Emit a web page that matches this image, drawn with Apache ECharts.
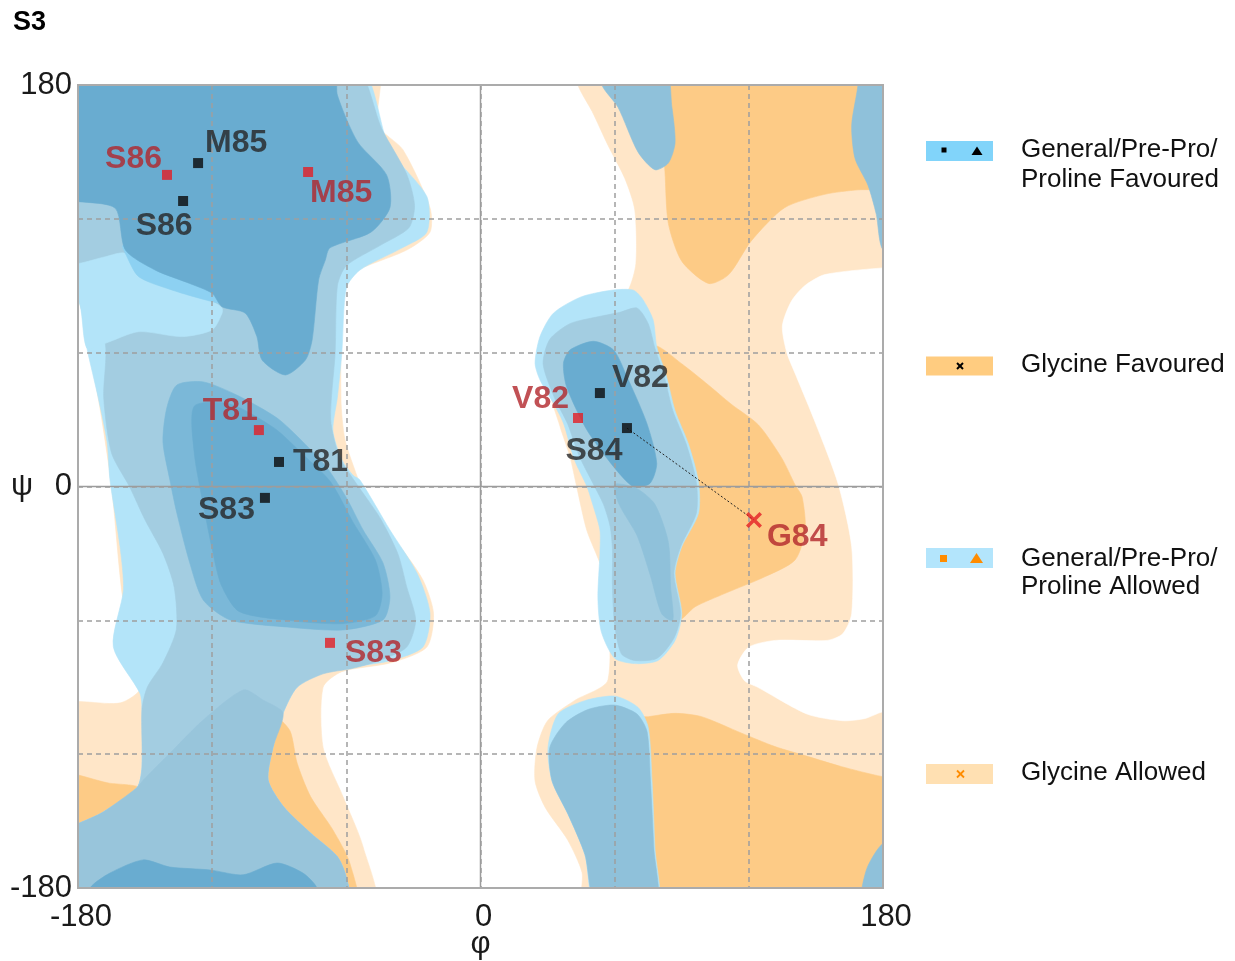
<!DOCTYPE html>
<html><head><meta charset="utf-8">
<script src="https://cdn.jsdelivr.net/npm/echarts@6/dist/echarts.min.js"></script>
<style>html,body{margin:0;padding:0;background:#fff}#c{width:1235px;height:961px}</style>
</head><body><div id="c"></div>
<script>
// ---------------- data ----------------
const phiTickLabels = [-180, 0, 180];
const psiTickLabels = [-180, 0, 180];

// model structure (black squares)
const modelResidues = ['T81', 'V82', 'S83', 'S84', 'M85', 'S86'];
const modelPhi = [-90.1, 53.4, -96.4, 65.5, -126.3, -133.0];
const modelPsi = [11.0, 41.9, -5.1, 26.2, 145.0, 128.0];

// second structure (red squares)
const refResidues = ['T81', 'V82', 'S83', 'M85', 'S86'];
const refPhi = [-99.1, 43.6, -67.3, -77.1, -140.2];
const refPsi = [25.3, 30.7, -70.1, 141.0, 139.7];

// glycine (red cross)
const glyResidues = ['G84'];
const glyPhi = [122.3];
const glyPsi = [-15.0];

// dotted link between residues
const linkPair = ['S84', 'G84'];

// ---- region contours, [phi, psi] in degrees ----
const glyAllowedLeft = [[-190,190],[-47,190],[-45.8,162],[-34.7,151],[-22.6,125],[-22.6,114],[-33,106],[-57,96],[-61.5,89],[-62.4,39],[-60.6,21],[-55,4],[-49.4,-12],[-36,-27],[-25.7,-42],[-21,-57],[-24,-72],[-40,-79],[-62,-83],[-70.4,-90],[-70.4,-117],[-61.5,-139],[-52.5,-161.6],[-48,-190],[-190,-190],[-190,-99],[-161,-97],[-152,-90],[-160,-50],[-165,0],[-171,40],[-180,84],[-190,86]];
const glyAllowedRight = [[43,190],[43.6,180],[50,168],[57,153],[64.6,138],[69,124],[69.5,100],[66,88],[55,75],[40,55],[31.1,44.7],[35.6,26.8],[40,13.4],[43,0],[47.5,-19.5],[55,-40],[57,-86.7],[42,-96],[30,-105],[25.3,-117],[24.4,-132],[29,-144],[39,-158.5],[45.4,-173],[46.7,-190],[190,-190],[190,190]];
const emptyPocket = [[190,98],[180,98],[154,95],[145,90],[139,83],[135,72],[137,60],[141,50],[150,28],[160,1],[166,-27],[166,-57],[162,-66],[155,-69],[132,-69],[120,-72],[115,-80],[118,-87],[124,-90],[146,-102],[162,-105],[172,-104],[180,-101],[190,-101]];
const glyFavLeftA = [[-190,-129],[-166,-133],[-153,-135],[-169,-146],[-190,-160]];
const glyFavLeftB = [[-100,-103],[-89.7,-104.7],[-85,-110],[-82,-124],[-76,-139],[-66,-154],[-58.4,-169],[-55.5,-190],[-100,-190]];
const glyFavRightTop = [[81,190],[81,165],[82.5,141],[84,118],[90,101],[102,91],[111,95],[121,110],[136,125],[154,131],[169,133],[180,133],[190,133],[190,190]];
const glyFavRightMid = [[78,63],[90,55],[101.9,45.5],[112,37],[124.3,27.6],[134.8,12.6],[140.7,0.7],[143.8,-4.6],[145.2,-19.5],[140.7,-32.9],[127.3,-40.4],[109.4,-47.9],[96,-53.9],[88.5,-59.8],[80,-45],[72,-20],[72,20],[74,50]];
const glyFavRightBot = [[70,-190],[70,-104],[75.1,-103.2],[87,-101.7],[98.9,-103.2],[116.8,-110.6],[131.7,-116.6],[146.6,-121.1],[161.5,-125.6],[179.4,-130],[190,-131],[190,-190]];

const genAllowedLeft = [[-190,190],[-56,190],[-40.5,151],[-24,130],[-24,114],[-35,107],[-54,97],[-60,89],[-62,60],[-64,40],[-66,25],[-62,12],[-57,5],[-53.9,2.9],[-40.5,-19.5],[-28.4,-38.8],[-22.6,-56.7],[-25.7,-71.9],[-40,-78],[-57,-80.9],[-70.4,-83.6],[-82,-89.9],[-88.3,-101.6],[-92.8,-116.9],[-95,-131.6],[-88,-143.7],[-76,-155.4],[-64,-166],[-59.7,-176.5],[-59,-190],[-190,-190],[-190,-158],[-168.8,-146],[-153.6,-135],[-151.4,-126],[-151.4,-100],[-152.3,-92.7],[-164.2,-71.8],[-159.7,-46.4],[-161.2,-27],[-165.7,2.9],[-167,20],[-171,40],[-176,62],[-180,84],[-190,86]];
const genAllowedAlphaL = [[24.4,55.2],[26.6,67.2],[32.6,77.7],[45,85],[59.4,88.1],[68.4,88],[72.5,84],[77.2,74.7],[78.8,62.7],[83,50],[87,34],[93,19],[97.5,2],[97.5,-12],[90,-27],[87,-39],[90,-57],[87,-69],[79.4,-78],[69,-79.4],[60,-77],[54,-65],[52.5,-50],[53.4,-30],[53.4,-19.5],[50,-7.4],[47.6,0],[42,12],[37.1,28.4],[32.6,37.4],[26.6,47.8]];
const genAllowedLow = [[34.7,-102],[46.7,-96],[60.2,-94],[70.4,-99],[75,-108],[76.7,-132],[78,-162],[79,-190],[52,-190],[46.7,-165],[39.2,-147],[32,-132],[30.2,-117]];

const preProLeft = [[-190,190],[-58,190],[-44,160],[-33,140],[-29.5,126],[-32,116],[-45,108],[-60,99],[-64,90],[-65,60],[-67,30],[-63,13],[-56,2],[-45,-14],[-37,-30],[-33,-45],[-29,-60],[-33,-72],[-45,-78],[-57,-81.5],[-70.4,-84],[-82,-90],[-88.3,-101.6],[-92.8,-116.9],[-95,-131.6],[-88,-143.7],[-76,-155.4],[-64,-166],[-59.7,-176.5],[-59,-190],[-190,-190],[-190,-158],[-168.8,-146],[-153.6,-135],[-151.4,-126],[-151.4,-100],[-149,-90],[-142,-79],[-136,-64],[-137,-45],[-142,-30],[-150,-15],[-157,0],[-165,15],[-168.5,40],[-167.8,64.2],[-176,80],[-180,98],[-190,100]];
const preProAlphaL = [[28,55],[31,66],[40,73],[52,76],[62,78],[70,80],[75,73],[78,62],[82,50],[86,34],[92,19],[96.5,2],[96.5,-12],[89.5,-27],[86.5,-39],[89.5,-57],[86.5,-68],[79,-77],[69,-78],[63,-75],[60,-62],[59,-45],[59,-28],[58,-18],[55,-8],[50,2],[44,14],[39,28],[33,40]];
const allowedBridge = [[-190,100],[-179.7,100],[-167.8,103],[-158.8,104.5],[-152.9,94.1],[-138,88.1],[-120,82.9],[-115.6,80],[-115.6,77.6],[-120,70.2],[-133.5,67.2],[-152.9,69.4],[-167.8,64.2],[-176,62],[-180,84],[-190,86]];
const generalBand = [[-160,108],[-158.8,104.5],[-152.9,94.1],[-138,88.1],[-120,82.9],[-113,82],[-110,95],[-140,102],[-155,110]];

const prolineLowLeft = [[-190,-158],[-168.8,-146],[-153.6,-135],[-150.8,-131.6],[-138.9,-119.6],[-124,-104.7],[-106,-91.2],[-97.3,-95.7],[-88.3,-101.6],[-92.8,-116.9],[-95,-131.6],[-88,-143.7],[-76,-155.4],[-64,-166],[-59.7,-176.5],[-59,-190],[-190,-190]];
const prolineLowRight = [[38,-106],[48,-100],[60,-98],[70,-102],[74.5,-110],[76,-132],[77.5,-162],[78.5,-190],[52.5,-190],[46.7,-165],[39.2,-147],[32,-132],[31,-117]];
const prolineTopWrap = [[54.3,190],[54.3,180],[61.5,170],[70.4,150],[78,142],[84,145],[87,154],[85.6,170],[82,190]];
const edgeTopRight = [[168.8,190],[168.8,180],[166,162],[167.5,147],[173.3,135],[177,122],[180,106],[190,104],[190,190]];
const edgeBottomRight = [[190,-158],[180,-160],[173.3,-170],[170.6,-180],[170,-190],[190,-190]];
const alphaLBand = [[60,1],[70,-1],[78,-8],[84,-25],[85,-45],[86,-60],[81,-57],[76,-40],[70,-22],[62,-8]];

const alphaOuter = [[-142,20],[-140.3,35.2],[-135.8,45.5],[-124,46.9],[-109,41],[-91,30.7],[-79.4,20],[-68.6,8.3],[-60,-5],[-52.5,-19.5],[-43.6,-34.3],[-40.5,-49.5],[-43.6,-59.8],[-61.5,-64.3],[-86.5,-63],[-112,-59.8],[-124,-50.9],[-130,-34.3],[-135.8,-11.9],[-138.9,2.9]];
const alphaCore = [[-128,36],[-112,37],[-92,26],[-79,14],[-67,2],[-57,-16],[-47,-33],[-44,-48],[-47,-58],[-62,-61.5],[-86,-60],[-108,-56],[-116,-44],[-120,-28],[-124,-8],[-128,15]];
const betaCore = [[-190,190],[-66,190],[-64,175.5],[-55,154.6],[-42,139.7],[-40.5,125],[-49,114],[-67.3,107],[-69.4,101.5],[-72.4,92.6],[-75.3,65.7],[-78.3,56.7],[-87.3,50],[-97.7,56.7],[-100,67.2],[-105.2,77.7],[-115.6,80.6],[-120,86.6],[-130,91],[-145.4,97],[-158.8,106],[-163.3,124.7],[-179.7,127.7],[-190,128]];
const betaCoreWrap = [[-176,-190],[-174.6,-180],[-165.7,-173.3],[-150.9,-167.4],[-138.9,-170.6],[-121,-171.9],[-106.2,-174.1],[-91,-168.8],[-79.4,-173.3],[-73.1,-180],[-72,-190]];
const alphaLCore = [[37.1,55.2],[40,61.2],[50.5,65.1],[59.5,61.2],[65.5,49.2],[74.4,28.3],[78.8,10.4],[75.8,1.4],[68.4,-0.1],[59.5,8.9],[47.6,25.3],[38.5,44.7]];

// ---------------- styles ----------------
const COL = {
  ga: '#FFE6C8', gf: '#FDCB86', bl: '#B3E4F9', bc: '#8DD1F2', bg: '#A3CDE1',
  bm: '#8FC1DA', bh: '#98C5DB', bt: '#7BB8D8', bd: '#69ACD0', white: '#FFFFFF'
};
const FONT = "'Liberation Sans', Arial, Helvetica, sans-serif";

const layers = [
  [glyAllowedLeft, COL.ga], [glyAllowedRight, COL.ga], [emptyPocket, COL.white],
  [glyFavLeftA, COL.gf], [glyFavLeftB, COL.gf], [glyFavRightTop, COL.gf], [glyFavRightMid, COL.gf], [glyFavRightBot, COL.gf],
  [genAllowedLeft, COL.bl], [genAllowedAlphaL, COL.bl], [genAllowedLow, COL.bl],
  [preProLeft, COL.bg], [preProAlphaL, COL.bg],
  [allowedBridge, COL.bl], [generalBand, COL.bc],
  [prolineLowLeft, COL.bh], [prolineLowRight, COL.bm], [prolineTopWrap, COL.bm],
  [edgeTopRight, COL.bm], [edgeBottomRight, COL.bm], [alphaLBand, COL.bm],
  [alphaOuter, COL.bt],
  [betaCore, COL.bd], [betaCoreWrap, COL.bd], [alphaCore, COL.bd], [alphaLCore, COL.bd]
];

// label placement relative to marker: [dx, dy, align]
const labelLayout = {
  model: { T81: [14, 0, 'left'], V82: [12, -15, 'left'], S83: [-10, 12, 'right'], S84: [-33, 23, 'center'], M85: [7, -20, 'left'], S86: [-19, 25, 'center'] },
  ref: { T81: [-1, -19, 'right'], V82: [-9, -19, 'right'], S83: [15, 10, 'left'], M85: [2, 21, 'left'], S86: [-5, -16, 'right'] },
  gly: { G84: [13, 17, 'left'] }
};

function markers(names, phi, psi, layout, color) {
  return names.map((n, i) => ({
    name: n, value: [phi[i], psi[i]],
    label: {
      show: true, formatter: n, position: 'inside',
      offset: [layout[n][0], layout[n][1]], align: layout[n][2], verticalAlign: 'middle',
      color: color, fontSize: 32, fontWeight: 'bold', fontFamily: FONT
    }
  }));
}

const iA = modelResidues.indexOf(linkPair[0]);
const iB = glyResidues.indexOf(linkPair[1]);

const chart = echarts.init(document.getElementById('c'));
chart.setOption({
  animation: false,
  backgroundColor: '#ffffff',
  grid: { left: 78, top: 85, width: 805, height: 803, containLabel: false, outerBoundsMode: 'none' },
  xAxis: {
    type: 'value', min: -180, max: 180, interval: 60, z: 3,
    axisLine: { show: false }, axisTick: { show: false },
    splitLine: { show: true, lineStyle: { color: '#9e9e9e', type: [5, 4], width: 1.5 } },
    axisLabel: {
      formatter: v => phiTickLabels.includes(v) ? String(v) : '',
      fontSize: 31, fontFamily: FONT, color: '#1a1a1a', margin: 14, padding: [0, 0, 0, 6]
    },
    name: 'φ', nameLocation: 'middle', nameGap: 41, nameMoveOverlap: false,
    nameTextStyle: { fontSize: 31, fontFamily: FONT, color: '#1a1a1a' }
  },
  yAxis: {
    type: 'value', min: -180, max: 180, interval: 60, z: 3,
    axisLine: { show: false }, axisTick: { show: false },
    splitLine: { show: true, lineStyle: { color: '#9e9e9e', type: [5, 4], width: 1.5 } },
    axisLabel: {
      formatter: v => psiTickLabels.includes(v) ? String(v) : '',
      fontSize: 31, fontFamily: FONT, color: '#1a1a1a', margin: 6
    },
    name: 'ψ', nameLocation: 'middle', nameRotate: 0, nameGap: 45, nameMoveOverlap: false,
    nameTextStyle: { fontSize: 31, fontFamily: FONT, color: '#1a1a1a' }
  },
  series: [
    {
      type: 'custom', name: 'regions', coordinateSystem: 'cartesian2d', clip: true, silent: true, z: 1,
      data: layers.map(() => [0, 0]),
      renderItem: (params, api) => {
        const [poly, fill] = layers[params.dataIndex];
        return {
          type: 'polygon', z2: params.dataIndex,
          shape: { points: poly.map(p => api.coord(p)), smooth: 0.25 },
          style: { fill: fill, stroke: fill, lineWidth: 0.6 }
        };
      }
    },
    {
      type: 'custom', name: 'frame', coordinateSystem: 'cartesian2d', silent: true, z: 4,
      data: [[0, 0]],
      renderItem: (params, api) => {
        const tl = api.coord([-180, 180]), br = api.coord([180, -180]), o = api.coord([0, 0]);
        return {
          type: 'group', children: [
            { type: 'line', shape: { x1: o[0], y1: tl[1], x2: o[0], y2: br[1] }, style: { stroke: '#9c9c9c', lineWidth: 1.5 } },
            { type: 'line', shape: { x1: tl[0], y1: o[1], x2: br[0], y2: o[1] }, style: { stroke: '#9c9c9c', lineWidth: 1.5 } },
            { type: 'rect', shape: { x: tl[0], y: tl[1], width: br[0] - tl[0], height: br[1] - tl[1] }, style: { fill: 'none', stroke: '#ababab', lineWidth: 2 } }
          ]
        };
      }
    },
    {
      type: 'line', name: 'link', z: 5, silent: true, symbol: 'none',
      data: [[modelPhi[iA], modelPsi[iA]], [glyPhi[iB], glyPsi[iB]]],
      lineStyle: { color: '#222', width: 1, type: [2, 2] }
    },
    {
      type: 'scatter', name: 'model', z: 6, symbol: 'rect', symbolSize: 10,
      itemStyle: { color: '#0a0a0a' },
      data: markers(modelResidues, modelPhi, modelPsi, labelLayout.model, '#262626')
    },
    {
      type: 'scatter', name: 'reference', z: 6, symbol: 'rect', symbolSize: 10,
      itemStyle: { color: '#E41E24' },
      data: markers(refResidues, refPhi, refPsi, labelLayout.ref, '#B1262B')
    },
    {
      type: 'scatter', name: 'glycine', z: 6, symbolSize: 16,
      symbol: 'path://M0,2.5 L2.5,0 L8,5.5 L13.5,0 L16,2.5 L10.5,8 L16,13.5 L13.5,16 L8,10.5 L2.5,16 L0,13.5 L5.5,8 Z',
      itemStyle: { color: '#E41E24' },
      data: markers(glyResidues, glyPhi, glyPsi, labelLayout.gly, '#B1262B')
    }
  ],
  graphic: [
    { type: 'text', x: 13, y: 23, style: { text: 'S3', font: `bold 27px ${FONT}`, fill: '#000', verticalAlign: 'middle' } },
    // legend 1
    { type: 'rect', shape: { x: 926, y: 141, width: 67, height: 20 }, style: { fill: '#81D4FA' } },
    { type: 'rect', shape: { x: 941.5, y: 147.5, width: 5, height: 5 }, style: { fill: '#000' } },
    { type: 'polygon', shape: { points: [[977, 146.5], [982.5, 155], [971.5, 155]] }, style: { fill: '#000' } },
    { type: 'text', x: 1021, y: 150, style: { text: 'General/Pre-Pro/', font: `26px ${FONT}`, fill: '#111', verticalAlign: 'middle' } },
    { type: 'text', x: 1021, y: 179.5, style: { text: 'Proline Favoured', font: `26px ${FONT}`, fill: '#111', verticalAlign: 'middle' } },
    // legend 2
    { type: 'rect', shape: { x: 926, y: 356.5, width: 67, height: 19 }, style: { fill: '#FFCC80' } },
    { type: 'polyline', shape: { points: [[957, 363], [963, 369]] }, style: { stroke: '#000', lineWidth: 2 } },
    { type: 'polyline', shape: { points: [[963, 363], [957, 369]] }, style: { stroke: '#000', lineWidth: 2 } },
    { type: 'text', x: 1021, y: 365, style: { text: 'Glycine Favoured', font: `26px ${FONT}`, fill: '#111', verticalAlign: 'middle' } },
    // legend 3
    { type: 'rect', shape: { x: 926, y: 548, width: 67, height: 20 }, style: { fill: '#B3E5FC' } },
    { type: 'rect', shape: { x: 940, y: 555, width: 7, height: 7 }, style: { fill: '#FF8C00' } },
    { type: 'polygon', shape: { points: [[976.5, 553], [983, 563], [970, 563]] }, style: { fill: '#FF8C00' } },
    { type: 'text', x: 1021, y: 559, style: { text: 'General/Pre-Pro/', font: `26px ${FONT}`, fill: '#111', verticalAlign: 'middle' } },
    { type: 'text', x: 1021, y: 587, style: { text: 'Proline Allowed', font: `26px ${FONT}`, fill: '#111', verticalAlign: 'middle' } },
    // legend 4
    { type: 'rect', shape: { x: 926, y: 764, width: 67, height: 20 }, style: { fill: '#FFE0B2' } },
    { type: 'polyline', shape: { points: [[957, 770.5], [964, 777.5]] }, style: { stroke: '#FF8C00', lineWidth: 1.8 } },
    { type: 'polyline', shape: { points: [[964, 770.5], [957, 777.5]] }, style: { stroke: '#FF8C00', lineWidth: 1.8 } },
    { type: 'text', x: 1021, y: 773, style: { text: 'Glycine Allowed', font: `26px ${FONT}`, fill: '#111', verticalAlign: 'middle' } }
  ]
});
</script>
</body></html>
